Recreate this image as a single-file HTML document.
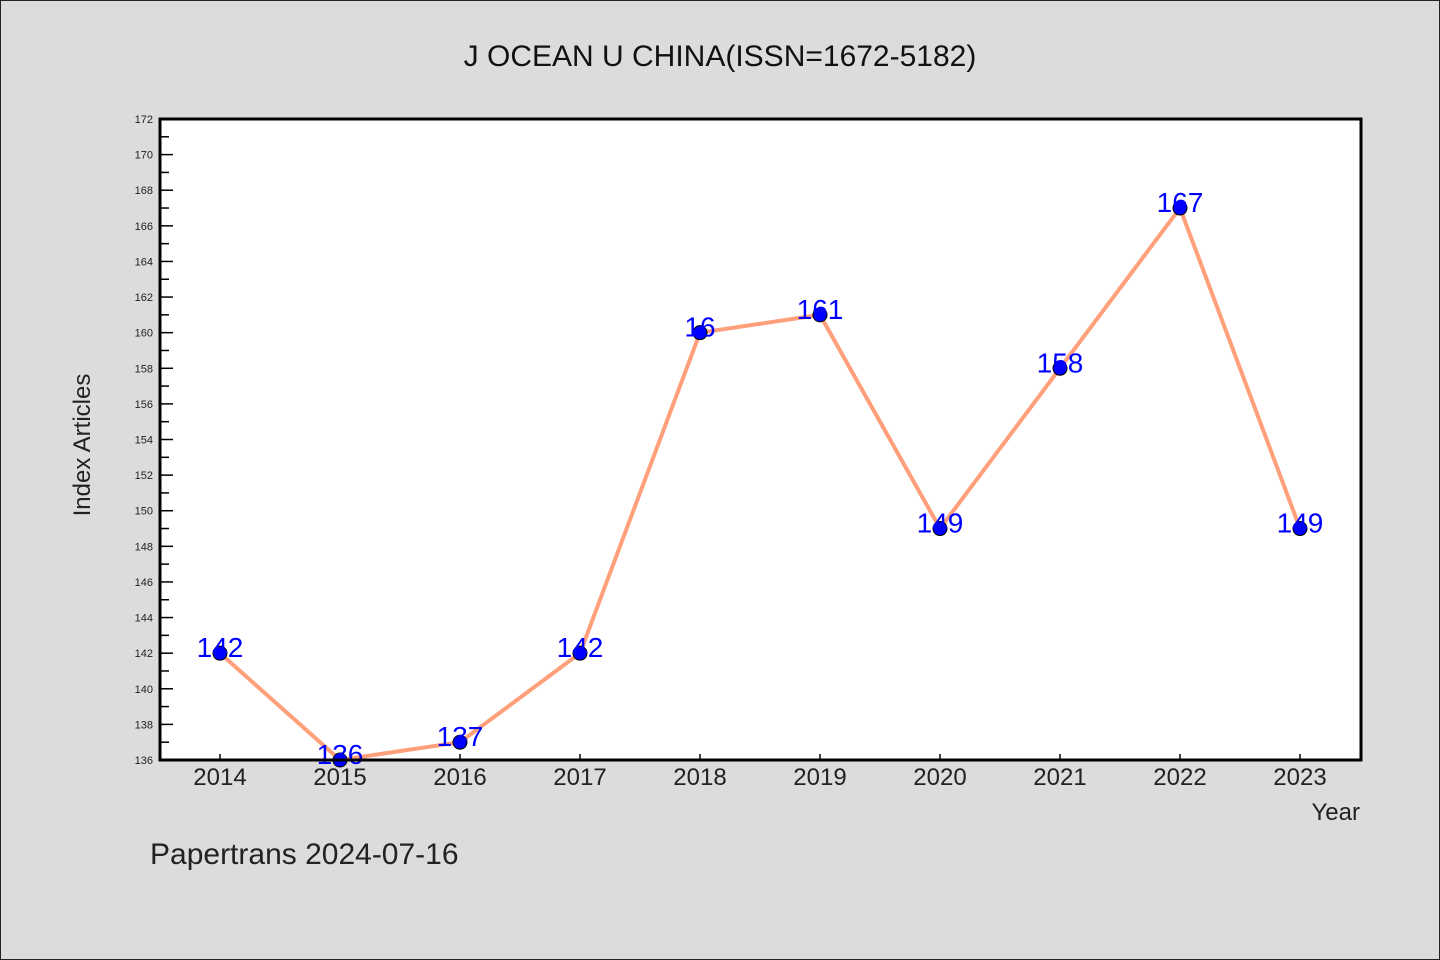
<!DOCTYPE html>
<html><head><meta charset="utf-8"><style>
html,body{margin:0;padding:0;background:#dcdcdc;}
svg{display:block;font-family:"WenQuanYi Zen Hei","Liberation Sans",sans-serif;}
</style></head><body>
<svg id="chart" width="1440" height="960" viewBox="0 0 1440 960">
<rect x="0.5" y="0.5" width="1439" height="959" fill="#dcdcdc" stroke="#222"/>
<text x="720" y="66" text-anchor="middle" font-size="30" fill="#111">J OCEAN U CHINA(ISSN=1672-5182)</text>
<rect x="160" y="119" width="1201" height="641" fill="#fff"/>
<g id="yaxis"></g>
<g id="xaxis"></g>
<g id="series"></g>
<rect x="160" y="119" width="1201" height="641" fill="none" stroke="#000" stroke-width="3"/>
<text x="90" y="445" transform="rotate(-90 90 445)" text-anchor="middle" font-size="24" fill="#222">Index Articles</text>
<text x="1360" y="820" text-anchor="end" font-size="24" fill="#222">Year</text>
<text x="150" y="864" font-size="30" fill="#222">Papertrans 2024-07-16</text>
</svg>
<script>
const years = [2014,2015,2016,2017,2018,2019,2020,2021,2022,2023];
const values = [142,136,137,142,160,161,149,158,167,149];
const valueLabels = ["142","136","137","142","16","161","149","158","167","149"];
const yMin = 136, yMax = 172;
const NS="http://www.w3.org/2000/svg";
function X(i){return 220 + i*120;}
function Y(v){return 760 - (v-yMin)*(641/(yMax-yMin));}
function mk(t,a,p){const e=document.createElementNS(NS,t);for(const k in a)e.setAttribute(k,a[k]);p.appendChild(e);return e;}
const ya=document.getElementById('yaxis'),xa=document.getElementById('xaxis'),sg=document.getElementById('series');
for(let v=yMin; v<=yMax; v++){
  const major=(v%2===0);
  const t=mk('line',{x1:160,x2:160+(major?13:9),y1:Y(v),y2:Y(v),stroke:'#000','stroke-width':1.5},ya);
  
  
  if(major){
    const l=mk('text',{x:153,y:Y(v)+4,'text-anchor':'end','font-size':11,fill:'#222'},ya);
    l.textContent=v;
    
    
  }
}
years.forEach((yr,i)=>{
  const t=mk('line',{x1:X(i),x2:X(i),y1:760,y2:754,stroke:'#000','stroke-width':1.5},xa);
  
  
  const l=mk('text',{x:X(i),y:785,'text-anchor':'middle','font-size':24,fill:'#222'},xa);
  l.textContent=yr;
  
  
});
const pl=mk('polyline',{points:values.map((v,i)=>X(i)+','+Y(v)).join(' '),fill:'none',stroke:'#ffa07a','stroke-width':4,'stroke-linejoin':'round'},sg);


values.forEach((v,i)=>{
  const c=mk('circle',{cx:X(i),cy:Y(v),r:7,fill:'#0000ff',stroke:'#000','stroke-width':1},sg);
  
  
  const l=mk('text',{x:X(i),y:Y(v)+4,'text-anchor':'middle','font-size':28,fill:'#0000ff'},sg);
  l.textContent=valueLabels[i];
  
  
});
</script>
</body></html>
